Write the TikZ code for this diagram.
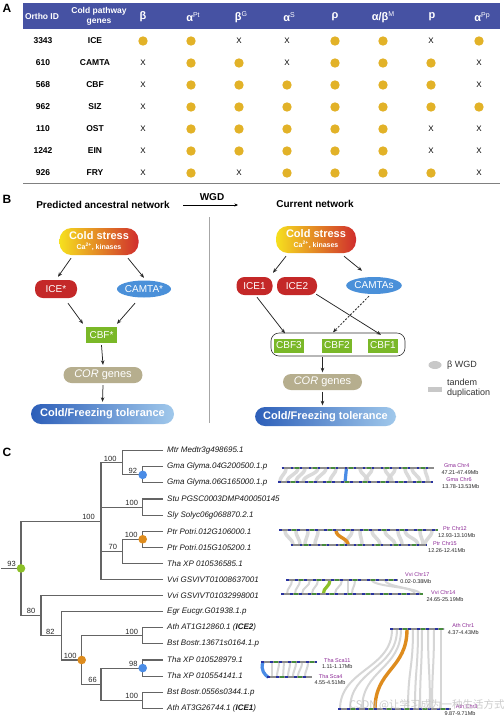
\documentclass[tikz,border=0pt]{standalone}
\usepackage{fontspec}
\setmainfont{Liberation Sans}
\newfontfamily\cjkfont{Noto Sans CJK SC}
\usetikzlibrary{arrows.meta,shapes.geometric,calc}
\newcommand\fsz[1]{\fontsize{#1}{#1}\selectfont}
\newcommand\fszb[2]{\fontsize{#1}{#2}\selectfont}
\newcommand\hsup[1]{\raisebox{4pt}{\mdseries\fsz{7}#1}}
\definecolor{hdrblue}{RGB}{70,82,163}
\definecolor{dotgold}{RGB}{226,178,40}
\definecolor{icered}{RGB}{196,40,40}
\definecolor{camblue}{RGB}{74,144,217}
\definecolor{cbfgreen}{RGB}{122,184,40}
\definecolor{corkhaki}{RGB}{182,174,142}
\definecolor{csyellow}{RGB}{246,224,30}
\definecolor{csorange}{RGB}{236,140,40}
\definecolor{csred}{RGB}{208,45,45}
\definecolor{tolblue1}{RGB}{45,95,185}
\definecolor{tolblue2}{RGB}{160,200,235}
\definecolor{treegray}{RGB}{100,100,100}
\definecolor{nodegreen}{RGB}{140,192,40}
\definecolor{nodeblue}{RGB}{74,140,230}
\definecolor{nodeorange}{RGB}{222,140,30}
\definecolor{chrblue}{RGB}{40,50,160}
\definecolor{chrgreen}{RGB}{70,140,60}
\definecolor{chrgray}{RGB}{140,140,140}
\definecolor{chrpurple}{RGB}{140,40,150}
\definecolor{ribgray}{RGB}{214,214,214}
\definecolor{leggray}{RGB}{200,200,200}
\tikzset{
  hdr/.style={text=white, font=\bfseries\fszb{8.5}{10}, inner sep=0, align=center},
  hsym/.style={text=white, font=\bfseries\fsz{11}, inner sep=0},
  cell/.style={font=\bfseries\fsz{8.5}, inner sep=0},
  xmark/.style={font=\fsz{8}, inner sep=0},
  gdot/.style={circle, fill=dotgold, minimum size=9.4pt, inner sep=0},
  panel/.style={font=\bfseries\fsz{12}, inner sep=0},
  title/.style={font=\bfseries\fsz{10}, inner sep=0},
  arr/.style={-{Stealth[length=4.5pt,width=3.6pt]}, line width=0.75pt, black!85},
  coldst/.style={rounded corners=12pt, left color=csyellow, middle color=csorange, right color=csred,
     text=white, align=center, inner sep=0, minimum width=79pt, minimum height=27pt,
     font=\bfseries\fszb{11}{10}},
  icen/.style={fill=icered, rounded corners=8pt, text=white, font=\fsz{10}, minimum height=18pt, inner sep=0},
  camn/.style={ellipse, fill=camblue, text=white, font=\fsz{10}, minimum width=54pt, minimum height=17pt, inner sep=0},
  cbfn/.style={fill=cbfgreen, text=white, font=\fsz{10}, minimum width=30pt, minimum height=14pt, inner sep=0},
  corn/.style={fill=corkhaki, rounded corners=8pt, text=white, font=\fsz{11}, minimum width=79pt, minimum height=16pt, inner sep=0},
  toln/.style={rounded corners=10pt, left color=tolblue1, right color=tolblue2, text=white,
     font=\bfseries\fsz{11}, minimum width=142pt, minimum height=20pt, inner sep=0},
  grp/.style={draw=black!80, line width=0.6pt, rounded corners=8pt, minimum width=134pt, minimum height=23pt, inner sep=0},
  legtxt/.style={font=\fszb{9}{10}, text=black!80, anchor=west, inner sep=0, align=left},
  tree/.style={treegray, line width=1.1pt},
  leaf/.style={font=\itshape\fsz{8}, anchor=west, inner sep=0, text=black!90},
  boot/.style={font=\fsz{7.5}, anchor=south east, inner sep=0, text=black!85},
  tdot/.style={circle, minimum size=8.6pt, inner sep=0},
  chrn/.style={font=\fsz{5.5}, text=chrpurple, inner sep=0},
  chrr/.style={font=\fsz{5.5}, text=black!85, inner sep=0},
  rib/.style={ribgray, line width=3.5pt, opacity=0.9},
  ribthin/.style={ribgray, line width=2pt},
  ribblue/.style={nodeblue, line width=3.2pt},
  riborange/.style={nodeorange, line width=3.4pt},
  ribgreen/.style={nodegreen, line width=3.2pt},
}
\newcommand\chrbar[3]{%
  \draw[chrgray, line width=2.3pt] (#1,#3) -- (#2,#3);
  \draw[chrblue, line width=2.3pt, dash pattern=on 2.5pt off 6.5pt] (#1,#3) -- (#2,#3);
  \draw[chrgreen, line width=2.3pt, dash pattern=on 4pt off 14pt, dash phase=5pt] (#1,#3) -- (#2,#3);}
\newcommand\rib[5][rib]{\draw[#1] (#2,#3) .. controls (#2,{(#3+#5)/2}) and (#4,{(#3+#5)/2}) .. (#4,#5);}
\begin{document}
\begin{tikzpicture}[x=1pt,y=-1pt]
\useasboundingbox (0,0) rectangle (504,716);
\fill[white] (0,0) rectangle (504,716);
% ---------------- Panel A ----------------
\node[panel] (lblA) at (7,8) {A};
\fill[hdrblue] (23,3) rectangle (500,29);
\node[hdr] (hOrtho) at (42,16) {Ortho ID};
\node[hdr] (hGenes) at (99,16.5) {Cold pathway\\genes};
\node[hsym] (h1) at (143,17) {β};
\node[hsym] (h2) at (193,17) {α\hsup{Pt}};
\node[hsym] (h3) at (241,17) {β\hsup{G}};
\node[hsym] (h4) at (289,17) {α\hsup{S}};
\node[hsym] (h5) at (335,17) {ρ};
\node[hsym] (h6) at (383,17) {α/β\hsup{M}};
\node[hsym] (h7) at (432,17) {p};
\node[hsym] (h8) at (482,17) {α\hsup{Pp}};
\foreach \i/\id/\g/\va/\vb/\vc/\vd/\ve/\vf/\vg/\vh in {
  0/3343/ICE/1/1/0/0/1/1/0/1,
  1/610/CAMTA/0/1/1/0/1/1/1/0,
  2/568/CBF/0/1/1/1/1/1/1/0,
  3/962/SIZ/0/1/1/1/1/1/1/1,
  4/110/OST/0/1/1/1/1/1/0/0,
  5/1242/EIN/0/1/1/1/1/1/0/0,
  6/926/FRY/0/1/0/1/1/1/1/0}{
  \pgfmathsetmacro\ry{41+22*\i}
  \node[cell] (id\i) at (43,\ry) {\id};
  \node[cell] (g\i) at (95,\ry) {\g};
  \foreach \v [count=\k] in {\va,\vb,\vc,\vd,\ve,\vf,\vg,\vh}{
    \pgfmathsetmacro\cx{143+48*(\k-1)}
    \ifnum\v=1 \node[gdot] (c\i-\k) at (\cx,\ry) {};
    \else \node[xmark] (c\i-\k) at (\cx,\ry) {X};\fi
  }
}
\draw[gray, line width=1.2pt] (23,183.5) -- (500,183.5);
% ---------------- Panel B ----------------
\node[panel] (lblB) at (7,199) {B};
\node[title] (tLeft) at (103,205) {Predicted ancestral network};
\node[title] (tWGD) at (212,197) {WGD};
\coordinate (wgdA) at (183,205);
\coordinate (wgdB) at (238,205);
\draw[-{Stealth[length=3.5pt,width=3pt]}, line width=0.6pt] (wgdA) -- (wgdB);
\node[title] (tRight) at (315,204) {Current network};
\coordinate (divT) at (209,217);
\coordinate (divB) at (209,423);
\draw[gray!70, line width=0.8pt] (divT) -- (divB);
% left network
\node[coldst] (csL) at (99,241.5) {Cold stress\\{\fsz{7}Ca\textsuperscript{2+}, kinases}};
\node[icen, minimum width=42pt] (iceL) at (56,289) {ICE*};
\node[camn] (camL) at (144,289) {CAMTA*};
\node[cbfn, minimum width=31pt, minimum height=16pt] (cbfL) at (101.5,335) {CBF*};
\node[corn] (corL) at (103,375) {\textit{COR} genes};
\node[toln, minimum width=143pt] (tolL) at (102.5,414) {Cold/Freezing tolerance};
\draw[arr] ($(csL.south)+(-28,3)$) -- ($(iceL.north)+(2,-3)$);
\draw[arr] ($(csL.south)+(29,3)$) -- ($(camL.north)+(0,-2.5)$);
\draw[arr] ($(iceL.south)+(12,5)$) -- ($(cbfL.north)+(-18.5,-3)$);
\draw[arr] ($(camL.south)+(-9,5.5)$) -- ($(cbfL.north)+(15.5,-3)$);
\draw[arr] ($(cbfL.south)+(0,2)$) -- ($(corL.north)+(0,-2)$);
\draw[arr] ($(corL.south)+(0,2)$) -- ($(tolL.north)+(0,-2)$);
% right network
\node[coldst, minimum width=80pt] (csR) at (316,239.5) {Cold stress\\{\fsz{7}Ca\textsuperscript{2+}, kinases}};
\node[icen, minimum width=36pt] (ice1) at (254.5,286) {ICE1};
\node[icen, minimum width=40pt] (ice2) at (297,286) {ICE2};
\node[camn] (camR) at (374,285.5) {CAMTAs};
\node[grp] (grpR) at (338,344.5) {};
\node[cbfn] (cbf3) at (289,345.5) {CBF3};
\node[cbfn] (cbf2) at (337,345.5) {CBF2};
\node[cbfn] (cbf1) at (383,345.5) {CBF1};
\node[corn] (corR) at (322.5,382) {\textit{COR} genes};
\node[toln, minimum width=141pt, minimum height=19pt] (tolR) at (325.5,416.5) {Cold/Freezing tolerance};
\draw[arr] ($(csR.south)+(-30,3)$) -- ($(ice1.north)+(18.5,-4)$);
\draw[arr] ($(csR.south)+(28,3)$) -- ($(camR.north)+(-12,-6)$);
\draw[arr] ($(ice1.south)+(2.5,2)$) -- ($(cbf3.north)+(-4,-5)$);
\draw[arr] ($(ice2.south east)+(-1,-1)$) -- ($(cbf1.north)+(-2,-3.5)$);
\draw[arr, dash pattern=on 2pt off 1.5pt] ($(camR.south)+(-5,2)$) -- ($(cbf2.north)+(-4,-6)$);
\draw[arr] ($(corR.north |- grpR.south)+(0,1)$) -- ($(corR.north)+(0,-1.5)$);
\draw[arr] ($(corR.south)+(0,1.5)$) -- ($(corR.south |- tolR.north)+(0,-1.5)$);
% legend
\node[ellipse, fill=leggray, minimum width=13pt, minimum height=8pt, inner sep=0] (lgE) at (435,365) {};
\node[legtxt] (lgEt) at (447,365) {β WGD};
\node[fill=leggray, minimum width=14pt, minimum height=5pt, inner sep=0] (lgR) at (435,389.5) {};
\node[legtxt] (lgRt) at (447,388) {tandem\\duplication};
% ---------------- Panel C ----------------
\node[panel] (lblC) at (7,452) {C};
\foreach \lab [count=\i] in {
  Mtr Medtr3g498695.1,
  Gma Glyma.04G200500.1.p,
  Gma Glyma.06G165000.1.p,
  Stu PGSC0003DMP400050145,
  Sly Solyc06g068870.2.1,
  Ptr Potri.012G106000.1,
  Ptr Potri.015G105200.1,
  Tha XP 010536585.1,
  Vvi GSVIVT01008637001,
  Vvi GSVIVT01032998001,
  Egr Eucgr.G01938.1.p,
  {Ath AT1G12860.1 (\textbf{ICE2})},
  Bst Bostr.13671s0164.1.p,
  Tha XP 010528979.1,
  Tha XP 010554141.1,
  Bst Bostr.0556s0344.1.p,
  {Ath AT3G26744.1 (\textbf{ICE1})}}{
  \pgfmathsetmacro\ly{450.7+16.1*(\i-1)}
  \coordinate (l\i) at (163,\ly);
  \node[leaf] (t\i) at (167,\ly) {\lab};
}
\coordinate (nGma) at (142.7,474.85);
\coordinate (nA) at (122.7,462.8);
\coordinate (nStu) at (142.7,507.05);
\coordinate (nPtr) at (142.7,539.25);
\coordinate (nC) at (122.7,551.3);
\coordinate (nU) at (101,521.15);
\coordinate (nAB) at (142.7,635.85);
\coordinate (nTha) at (142.7,668.05);
\coordinate (nBA) at (142.7,700.25);
\coordinate (n66) at (101,684.15);
\coordinate (nO) at (81.7,660);
\coordinate (n82) at (61.7,635.85);
\coordinate (n80) at (41,615.7);
\coordinate (root) at (21,568.4);
\coordinate (r0) at (1,568.4);
\draw[tree] (l1) -| (nA);  \draw[tree] (nGma) -| (nA);
\draw[tree] (l2) -| (nGma); \draw[tree] (l3) -| (nGma);
\draw[tree] (l4) -| (nStu); \draw[tree] (l5) -| (nStu);
\draw[tree] (l6) -| (nPtr); \draw[tree] (l7) -| (nPtr);
\draw[tree] (nPtr) -| (nC); \draw[tree] (l8) -| (nC);
\draw[tree] (nA) -| (nU); \draw[tree] (nStu) -| (nU); \draw[tree] (nC) -| (nU); \draw[tree] (l9) -| (nU);
\draw[tree] (nU) -| (root); \draw[tree] (n80) -| (root);
\draw[tree] (l10) -| (n80); \draw[tree] (n82) -| (n80);
\draw[tree] (l11) -| (n82); \draw[tree] (nO) -| (n82);
\draw[tree] (nAB) -| (nO); \draw[tree] (n66) -| (nO);
\draw[tree] (l12) -| (nAB); \draw[tree] (l13) -| (nAB);
\draw[tree] (nTha) -| (n66); \draw[tree] (nBA) -| (n66);
\draw[tree] (l14) -| (nTha); \draw[tree] (l15) -| (nTha);
\draw[tree] (l16) -| (nBA); \draw[tree] (l17) -| (nBA);
\draw[tree] (r0) -- (root);
\node[tdot, fill=nodegreen] (droot) at (root) {};
\node[tdot, fill=nodeblue] (dGma) at (nGma) {};
\node[tdot, fill=nodeorange] (dPtr) at (nPtr) {};
\node[tdot, fill=nodeorange] (dO) at (nO) {};
\node[tdot, fill=nodeblue] (dTha) at (nTha) {};
\node[boot] (b93) at ($(root)+(-5,-1.5)$) {93};
\node[boot] (bU) at ($(nU)+(-6,-1.5)$) {100};
\node[boot] (bA) at ($(nA)+(-6,-1.5)$) {100};
\node[boot] (bGma) at ($(nGma)+(-5.5,-1.5)$) {92};
\node[boot] (bStu) at ($(nStu)+(-4.5,-1.5)$) {100};
\node[boot] (bPtr) at ($(nPtr)+(-5,-1.5)$) {100};
\node[boot] (bC) at ($(nC)+(-5.5,-1.5)$) {70};
\node[boot] (b80) at ($(n80)+(-5.5,-1.5)$) {80};
\node[boot] (b82) at ($(n82)+(-7,-1.5)$) {82};
\node[boot] (bO) at ($(nO)+(-5,-1.5)$) {100};
\node[boot] (bAB) at ($(nAB)+(-4.5,-1.5)$) {100};
\node[boot] (b66) at ($(n66)+(-4,-1.5)$) {66};
\node[boot] (bTha) at ($(nTha)+(-5,-1.5)$) {98};
\node[boot] (bBA) at ($(nBA)+(-4.5,-1.5)$) {100};
% ---- synteny: Gma ----
\foreach \a/\b in {286/280,298/287,305/296,318/303,326/316,336/330,360/368,372/365,385/392,395/388,405/410,412/420,425/428}{\rib{\a}{467.7}{\b}{482.3}}
\rib[ribblue]{346.5}{467.7}{345}{482.3}
\chrbar{281.7}{434}{467.7}
\chrbar{278}{432.7}{482.3}
\node[chrn] (gc4) at (456.7,465.7) {Gma Chr4};
\node[chrr] (gc4r) at (460,472.3) {47.21-47.49Mb};
\node[chrn] (gc6) at (459,479.3) {Gma Chr6};
\node[chrr] (gc6r) at (460.7,486.7) {13.78-13.53Mb};
% ---- synteny: Ptr ----
\foreach \a/\b in {285/293,296/300,308/305,318/315,352/345,360/362,372/380,385/395,398/402,405/418,420/423,432/425}{\rib{\a}{530.3}{\b}{545.3}}
\rib[riborange]{336}{530.3}{348.3}{545.3}
\chrbar{279.3}{438.3}{530.3}
\chrbar{290.7}{427.3}{545.3}
\node[chrn] (pc12) at (455,528.3) {Ptr Chr12};
\node[chrr] (pc12r) at (456.7,535.7) {12.93-13.10Mb};
\node[chrn] (pc15) at (445,543.7) {Ptr Chr15};
\node[chrr] (pc15r) at (446.7,550.3) {12.26-12.41Mb};
% ---- synteny: Vvi ----
\foreach \a/\b in {292/287,300/295,310/302,318/312,342/335,348/348,355/352,372/420,385/415}{\rib[ribthin]{\a}{580}{\b}{594}}
\rib[ribgreen]{330}{580}{323.3}{594}
\chrbar{286}{398.3}{580}
\chrbar{281}{423.3}{594}
\node[chrn] (vc17) at (417.3,575) {Vvi Chr17};
\node[chrr] (vc17r) at (415.7,581.7) {0.02-0.38Mb};
\node[chrn] (vc14) at (443.3,592.7) {Vvi Chr14};
\node[chrr] (vc14r) at (445,599.3) {24.65-25.19Mb};
% ---- synteny: Tha ----
\foreach \a/\b in {272/272,279/277,284/283,290/288,296/293,302/298,308/305}{\rib[ribthin]{\a}{662}{\b}{677.3}}
\draw[ribblue] (263,662) .. controls (260,670) and (265,675) .. (268.3,677.3);
\chrbar{261}{317.3}{662}
\chrbar{267.3}{312.3}{677.3}
\node[chrn] (tc11) at (337.3,660.7) {Tha Sca11};
\node[chrr] (tc11r) at (337.3,666.7) {1.11-1.17Mb};
\node[chrn] (tc4) at (330.7,676.7) {Tha Sca4};
\node[chrr] (tc4r) at (330,682.7) {4.55-4.51Mb};
% ---- synteny: Ath ----
\foreach \a/\b in {392/340,397/350,401/362,413/408,418/415,422/420,428/430,434/432,441/441}{\rib[ribthin]{\a}{629.3}{\b}{709.3}}
\rib[riborange]{407}{629.3}{375}{709.3}
\chrbar{390}{444}{629.3}
\chrbar{338}{451}{709.3}
\node[chrn] (ac1) at (463.3,626) {Ath Chr1};
\node[chrr] (ac1r) at (463.3,632.7) {4.37-4.43Mb};
\node[chrn] (ac3) at (466.7,707) {Ath Chr3};
\node[chrr] (ac3r) at (460,714) {9.87-9.71Mb};
% watermark
\node[font=\cjkfont\fsz{10.5}, text=black!25, opacity=0.8, inner sep=0] (wm) at (427,705) {CSDN @让学习成为一种生活方式};
\end{tikzpicture}
\end{document}
